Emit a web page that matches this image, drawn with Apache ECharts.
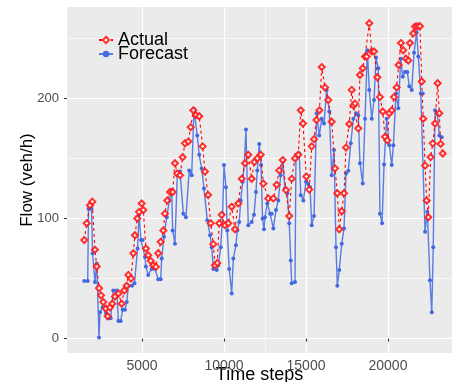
<!DOCTYPE html>
<html>
<head>
<meta charset="utf-8">
<script src="https://cdn.jsdelivr.net/npm/echarts@6/dist/echarts.min.js"></script>
<style>
  html, body { margin: 0; padding: 0; background: #fff; }
  #chart { width: 454px; height: 382px; }
</style>
</head>
<body>
<div id="chart"></div>
<script>
// data
const actualX = [1480,1630,1830,1970,2130,2240,2380,2500,2640,2790,2910,3050,3190,3350,3560,3760,3920,4070,4170,4330,4470,4570,4710,4820,4980,5080,5240,5380,5530,5690,5850,5990,6140,6300,6400,6540,6710,6870,7010,7150,7320,7480,7620,7820,7970,8130,8290,8490,8700,8840,9030,9190,9350,9450,9590,9710,9860,10060,10260,10470,10670,10870,11080,11280,11480,11690,11850,12030,12240,12400,12700,13010,13210,13370,13580,13780,13980,14130,14330,14530,14680,14820,15020,15200,15350,15490,15640,15820,15960,16160,16360,16570,16770,16910,17030,17180,17320,17440,17640,17790,17890,17990,18190,18290,18460,18600,18700,18860,19010,19150,19350,19510,19680,19820,19960,20080,20230,20370,20530,20650,20790,20930,21100,21240,21340,21540,21650,21790,21950,22060,22150,22260,22360,22460,22600,22730,22870,23030,23130,23210,23340];
const actualY = [82,96,111,114,74,60,42,36,30.5,25,18.6,26,29,35,37.5,29,40,44,53,50,71,86,100,105.5,112.5,107,75,69.4,64.7,61,59.7,71,80.5,90,104,115,122,122,146,137.5,136,151,162.5,164,176,190,186,185,160,139,119.5,96,78.6,61,63,96,103,94.4,96,109.7,91,112.5,133,146,153,133,147,150,153,129,116.7,116.7,128,140,148.6,123.6,102,133,150,153,190,179,135,124,160,166,182,190,226,209,198.6,180.5,141.7,121,91,106,121,159,178.6,207,194,195.6,175,219.4,225,234.7,234.7,262.5,239,239,217.5,201,189,168,165,187.5,190,201,209,227.7,246,240,233,231.5,246,254,259.7,260,260,214,183,144,115,101,151,162.5,179,212.5,187.5,162,154];

const forecastX = [1480,1690,1740,1920,1990,2130,2240,2380,2440,2600,2810,2950,3090,3250,3460,3560,3700,3820,3960,4070,4170,4390,4540,4730,4820,4940,5040,5180,5240,5380,5590,5790,5990,6140,6200,6340,6510,6670,6810,6870,7010,7150,7320,7520,7680,7880,8030,8170,8370,8490,8640,8780,8980,9150,9250,9350,9560,9650,9800,9920,10000,10120,10200,10320,10470,10570,10730,10810,10930,11020,11140,11240,11340,11480,11690,11830,11950,12030,12150,12260,12350,12440,12500,12640,12810,12910,13010,13170,13310,13460,13580,13720,13860,13980,14070,14130,14330,14390,14590,14680,14840,15000,15140,15250,15350,15490,15650,15810,15960,16100,16260,16420,16570,16710,16830,16910,17030,17180,17320,17440,17580,17730,17890,18050,18190,18290,18460,18600,18740,18860,19010,19150,19270,19410,19510,19640,19760,19920,20080,20230,20330,20490,20630,20780,20900,21040,21180,21300,21450,21590,21750,21850,22000,22120,22260,22400,22560,22670,22760,22870,23010,23130,23280];
const forecastY = [48,48,108,108,71,47,62.5,1,22,26,21,17,17,40,40,14.7,14.7,24,24,30.5,44,44,46,75,103,82,82,68,60,53,58,58,49.4,49.4,66.7,84.7,101,115,123.6,90,79,136,139,104,101,140,136,191,169,153,141.6,125,98.6,86,76,58,57,61,76,104,144.4,126,90,58,37.5,66.7,77.7,90,97,115,130.5,146,174,94.4,97,103,122,140,162,144.4,100,91,101,112.5,104,104,91.7,107,115,136,147,125,121,96,65,46,47,153,154,119.4,115,130.5,128.6,126,94.4,102,187.5,169,183,179,207,189,136,157,76,44,57,79,91.7,137.5,139.7,162.5,183,187.5,186,146,129,183,240,207,183,198.6,234,225,104,96,145,183,161,144.4,161,204,191.7,233,218,222,222,210,207,238,255,234.7,204,204,89,105.5,48.6,22,76,190,187,169,167.5];

const xTicks = [5000, 10000, 15000, 20000];
const xMinorLines = [12500];
const yTicks = [0, 100, 200];
const yMinorLines = [50, 150, 250];

const xRange = [427, 23904];
const yRange = [-12, 276];

function pairs(xs, ys) {
  return xs.map((x, i) => [x, ys[i]]);
}

const chart = echarts.init(document.getElementById('chart'), null, { renderer: 'canvas' });

const option = {
  animation: false,
  backgroundColor: '#fff',
  textStyle: { fontFamily: 'Liberation Sans, Arial, sans-serif' },
  grid: {
    left: 67, right: 2, top: 7, bottom: 29,
    outerBoundsMode: 'none', containLabel: false,
    show: true, backgroundColor: '#EBEBEB', borderWidth: 0
  },
  legend: {
    orient: 'vertical',
    left: 98, top: 31,
    itemWidth: 14, itemHeight: 8, itemGap: -4,
    padding: 0,
    textStyle: { fontSize: 18, color: '#000' },
    data: ['Actual', 'Forecast']
  },
  xAxis: [
    {
      type: 'value', min: xRange[0], max: xRange[1],
      axisLine: { show: false },
      axisTick: { customValues: xTicks, length: 3, lineStyle: { color: '#333' } },
      axisLabel: { customValues: xTicks, color: '#4d4d4d', fontSize: 14, margin: 6, formatter: v => String(v) },
      splitLine: { show: true, lineStyle: { color: '#fff', width: 1.2 } },
      name: 'Time steps', nameLocation: 'middle', nameGap: 13, nameMoveOverlap: false,
      nameTextStyle: { fontSize: 18, color: '#000' }
    },
    {
      // minor grid line
      type: 'value', min: xRange[0], max: xRange[1],
      axisLine: { show: false },
      axisTick: { show: false, customValues: xMinorLines },
      axisLabel: { show: false },
      splitLine: { show: true, lineStyle: { color: '#fff', width: 0.7 } }
    }
  ],
  yAxis: [
    {
      type: 'value', min: yRange[0], max: yRange[1],
      axisLine: { show: false },
      axisTick: { customValues: yTicks, length: 3, lineStyle: { color: '#333' } },
      axisLabel: { customValues: yTicks, color: '#4d4d4d', fontSize: 13, margin: 8 },
      splitLine: { show: true, lineStyle: { color: '#fff', width: 1.2 } },
      name: 'Flow (veh/h)', nameLocation: 'middle', nameGap: 31, nameMoveOverlap: false,
      nameTextStyle: { fontSize: 17, color: '#000' }
    },
    {
      type: 'value', min: yRange[0], max: yRange[1],
      axisLine: { show: false },
      axisTick: { show: false, customValues: yMinorLines },
      axisLabel: { show: false },
      splitLine: { show: true, lineStyle: { color: '#fff', width: 0.7 } }
    }
  ],
  series: [
    {
      name: 'Forecast', type: 'line',
      data: pairs(forecastX, forecastY),
      symbol: 'circle', symbolSize: 4,
      itemStyle: { color: '#4169E1' },
      lineStyle: { color: '#4169E1', width: 1.4, opacity: 0.85 },
      z: 3
    },
    {
      name: 'Actual', type: 'line',
      data: pairs(actualX, actualY),
      symbol: 'emptyDiamond', symbolSize: 6,
      itemStyle: { color: '#ff1a1a', borderWidth: 0.7, opacity: 0.9 },
      lineStyle: { color: '#ff0000', width: 1.1, type: [3, 3] },
      z: 4
    }
  ]
};

chart.setOption(option);
window.addEventListener('resize', () => chart.resize());
</script>
</body>
</html>
